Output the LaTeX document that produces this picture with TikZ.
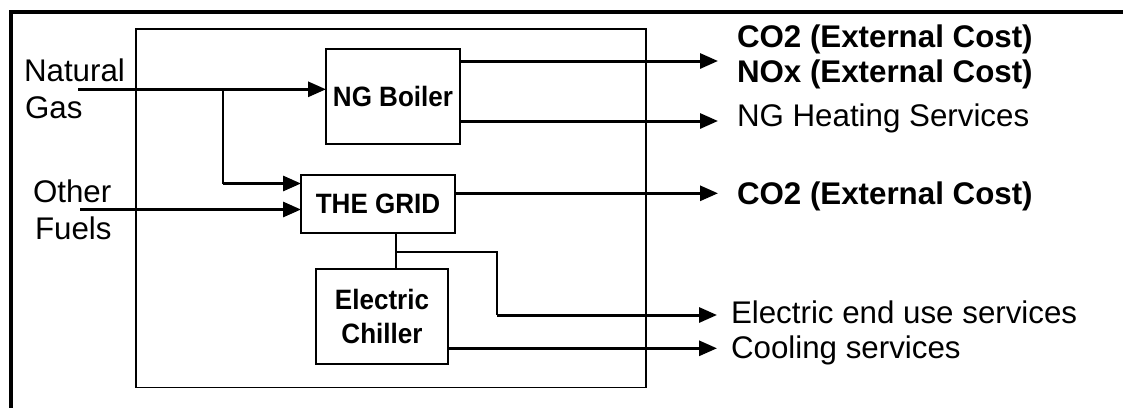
\documentclass[tikz,border=0pt]{standalone}
\usepackage{fontspec}
\setmainfont{Liberation Sans}
\newfontfamily\boxfont[FakeStretch=0.93]{Liberation Sans}
\usetikzlibrary{arrows.meta}
\tikzset{
  box/.style={draw=black, line width=2pt, inner sep=0pt, outer sep=0pt, align=center,
    font=\boxfont\fontsize{28}{34}\selectfont\bfseries},
  sysbox/.style={draw=black, line width=1.6pt, inner sep=0pt, outer sep=0pt},
  flow/.style={line width=3pt, -{Triangle[length=18pt 0 0,width=15pt 0 0]}},
  conn/.style={line width=1.8pt},
  lbl/.style={inner sep=0pt, outer sep=0pt, anchor=base west, font=\fontsize{31.3}{36}\selectfont},
  blbl/.style={lbl, font=\fontsize{31.3}{36}\selectfont\bfseries}
}
\begin{document}
\begin{tikzpicture}[x=1pt,y=-1pt]
\useasboundingbox (0,0) rectangle (1123,407);
\clip (0,0) rectangle (1123,407);
% outer frame (left and top edges)
\draw[line width=4pt] (10.5,420) -- (10.5,11.5) -- (1140,11.5);
% system box
\node[sysbox, minimum width=510pt, minimum height=358.6pt] (sys) at (390.7,208) {};
% components
\node[box, minimum width=134pt, minimum height=95pt] (boiler) at (393,96.8) {NG Boiler};
\node[box, minimum width=154pt, minimum height=57.7pt] (grid) at (378,203.7) {THE GRID};
\node[box, minimum width=132.6pt, minimum height=95pt] (chiller) at (382,316.8) {Electric\\Chiller};
% left labels
\node[lbl] (nat1) at (24,81) {Natural};
\node[lbl] (nat2) at (25,118.5) {Gas};
\node[lbl] (oth1) at (33,202) {Other};
\node[lbl] (oth2) at (35,239) {Fuels};
% right labels
\node[blbl] (co2a) at (737,47) {CO2 (External Cost)};
\node[blbl] (nox) at (737,82.5) {NOx (External Cost)};
\node[lbl] (ngh) at (737,126) {NG Heating Services};
\node[blbl] (co2b) at (737,204) {CO2 (External Cost)};
\node[lbl] (eeu) at (731,323.3) {Electric end use services};
\node[lbl] (cool) at (731,358.5) {Cooling services};
% coordinates
\coordinate (ngin) at (78,89.3);
\coordinate (ngj) at (222.7,89.3);
\coordinate (ngk) at (222.7,183.5);
\coordinate (ofin) at (80,209.5);
\coordinate (t1) at (718,61);
\coordinate (t2) at (718,121);
\coordinate (t3) at (718,193.3);
\coordinate (gx) at (396,252.3);
\coordinate (bend) at (496.7,252.3);
\coordinate (t4) at (717,315);
\coordinate (t5) at (717,348.3);
% inputs
\draw[flow] (ngin) -- (ngin -| boiler.west);
\draw[conn] (ngj) -- (ngk);
\draw[flow] (ngk) -- (ngk -| grid.west);
\draw[flow] (ofin) -- (ofin -| grid.west);
% outputs
\draw[flow] (boiler.east |- t1) -- (t1);
\draw[flow] (boiler.east |- t2) -- (t2);
\draw[flow] (grid.east |- t3) -- (t3);
\draw[conn] (gx |- grid.south) -- (gx |- chiller.north);
\draw[conn] (gx) -- (bend) -- (bend |- t4);
\draw[flow] (bend |- t4) -- (t4);
\draw[flow] (chiller.east |- t5) -- (t5);
\end{tikzpicture}
\end{document}
